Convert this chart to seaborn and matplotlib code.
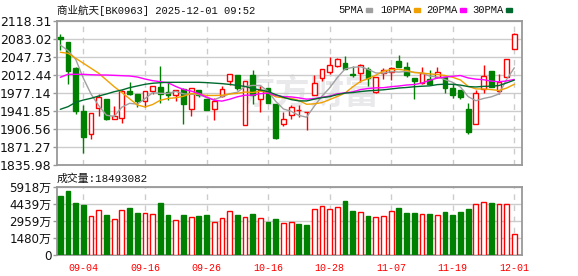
import numpy as np
import pandas as pd
import matplotlib
matplotlib.use("Agg")
import matplotlib.pyplot as plt
from matplotlib.patches import Rectangle
import seaborn as sns

sns.set_theme(style="white")
plt.rcParams["font.family"] = ["DejaVu Sans", "Noto Sans CJK SC"]

# ---------------- data ----------------
opens = [2087.5, 2077.1, 2026.8, 1942.4, 1896.2, 1948.3, 1965.4, 1926.8, 1928.7, 1981.1,
         1975.2, 1960.9, 1981.1, 1988.9, 1979.7, 1972.6, 1984.4, 1945.2, 1982.4, 1964.8,
         1946.4, 1971.3, 2000.1, 2011.8, 1913.8, 2012.4, 1966.0, 1986.3, 1955.6, 1915.8,
         1934.0, 1943.0, 1940.0, 1973.2, 2005.9, 2018.9, 2030.7, 2035.4, 2014.4, 2015.7,
         2024.8, 1979.7, 2015.7, 2018.9, 2039.3, 2028.1, 2006.5, 1996.2, 2004.0, 2007.9,
         2009.1, 1987.0, 1983.0, 1945.8, 1915.8, 1985.6, 2020.3, 1980.5, 2007.9, 2062.8]
highs = [2092.8, 2077.5, 2028.7, 1953.6, 1937.3, 1975.2, 1966.0, 1951.7, 1983.0, 1998.7,
         1975.2, 1981.1, 1990.3, 2030.7, 1998.7, 1982.4, 1987.6, 1986.3, 1982.4, 1964.8,
         1966.8, 1990.9, 2015.0, 2011.8, 2000.6, 2022.2, 1990.3, 1986.3, 1955.6, 1940.5,
         1953.6, 1953.0, 1940.5, 2012.4, 2024.8, 2047.1, 2046.4, 2049.7, 2030.7, 2033.4,
         2028.7, 2009.1, 2025.6, 2028.7, 2051.0, 2037.9, 2006.5, 2028.1, 2021.6, 2028.1,
         2009.1, 1996.2, 1983.0, 1957.5, 1983.0, 2032.0, 2020.3, 2014.4, 2043.2, 2094.2]
lows = [2061.5, 1994.2, 1936.0, 1860.1, 1886.4, 1932.1, 1924.2, 1926.8, 1918.9, 1972.6,
        1950.3, 1950.3, 1975.2, 1957.0, 1963.4, 1962.1, 1917.0, 1932.6, 1968.7, 1944.0,
        1924.8, 1970.0, 1992.8, 1982.4, 1913.8, 1955.6, 1939.9, 1957.0, 1887.0, 1913.0,
        1926.2, 1930.7, 1904.0, 1973.2, 2000.1, 2013.8, 2028.7, 2024.2, 2009.1, 1998.7,
        1991.5, 1977.7, 2005.2, 2002.6, 2027.5, 2009.1, 1965.4, 1994.8, 1994.2, 2006.0,
        1977.7, 1968.0, 1966.0, 1897.3, 1915.8, 1977.7, 1989.5, 1975.8, 2007.9, 2062.8]
closes = [2082.4, 2020.9, 1942.4, 1891.5, 1937.3, 1969.3, 1926.8, 1932.1, 1981.1, 1975.2,
          1960.9, 1981.1, 1990.3, 1975.2, 1973.2, 1982.4, 1956.2, 1986.3, 1972.6, 1944.4,
          1961.5, 1984.4, 2015.0, 1987.6, 2000.6, 1972.6, 1983.0, 1958.2, 1888.9, 1926.2,
          1950.3, 1943.0, 1940.0, 1996.2, 2024.8, 2031.4, 2044.4, 2024.2, 2011.8, 2031.4,
          2005.9, 2009.1, 2022.2, 2026.2, 2027.5, 2012.4, 2000.7, 2015.7, 1995.4, 2017.7,
          1987.6, 1973.8, 1969.9, 1901.3, 1977.2, 2009.9, 1989.5, 1998.1, 2043.2, 2092.2]
volumes_wan = [5138, 5572, 4506, 4358, 3379, 3873, 3495, 3090, 3873, 4073,
               3665, 3639, 3553, 4506, 3495, 3033, 3495, 3293, 3379, 3466,
               2859, 3180, 3786, 3466, 3267, 3553, 3180, 2859, 3119, 2747,
               2833, 2686, 2600, 3960, 4306, 3960, 4220, 4679, 3813, 3700,
               3379, 3267, 3353, 3786, 4073, 3639, 3639, 3553, 3553, 3466,
               3726, 3466, 3726, 3986, 4480, 4653, 4506, 4419, 4480, 1849.3082]

ma5_head = [2071.3, 2060.1, 2043.2, 2005.9]
ma10_head = [2057.0, 2055.0, 2045.2, 2035.4, 2025.6, 2015.7, 2002.6, 1989.5, 1978.0]
ma20_head = [2007.9, 2013.8, 2013.8, 2013.8, 2013.0, 2012.4, 2012.4, 2011.8, 2011.1, 2010.5,
             2008.5, 2004.6, 2001.3, 1999.3, 1997.3, 1990.0, 1984.0, 1981.0, 1976.0]
ma30_head = [1945.2, 1950.3, 1958.9, 1963.4, 1966.8, 1971.3, 1975.2, 1979.7, 1983.0, 1987.6,
             1990.9, 1994.2, 1996.2, 1997.4, 1998.1, 1998.1, 1998.1, 1998.1, 1998.1, 1997.5,
             1996.5, 1995.5, 1994.0, 1992.0, 1990.0, 1986.0, 1983.0, 1980.0, 1974.0]

tick_idx = [3, 11, 19, 27, 35, 43, 51, 59]
tick_labels = ["09-04", "09-16", "09-26", "10-16", "10-28", "11-07", "11-19", "12-01"]
price_ticks = list(np.linspace(1835.98, 2118.31, 9))
vol_ticks = [0, 1479.5, 2959, 4438.5, 5918]
vol_tick_labels = ["0", "1480万", "2959万", "4439万", "5918万"]

title = "商业航天[BK0963] 2025-12-01 09:52"
vol_title = "成交量:18493082"

# ---------------- derived ----------------
df = pd.DataFrame({"open": opens, "high": highs, "low": lows, "close": closes, "vol": volumes_wan})
df["i"] = np.arange(len(df))
for n, head, col in [(5, ma5_head, "ma5"), (10, ma10_head, "ma10"),
                     (20, ma20_head, "ma20"), (30, ma30_head, "ma30")]:
    m = df["close"].rolling(n).mean()
    m.iloc[:len(head)] = head
    df[col] = m

RED = "#ff0000"
GREEN = "#008000"
up = df["close"] >= df["open"]
prev = df["close"].shift(1).fillna(df["open"])
vol_up = np.where(df["close"] > df["open"], True,
                  np.where(df["close"] < df["open"], False, df["close"] >= prev))

# ---------------- figure ----------------
W, H = 578, 276
fig = plt.figure(figsize=(W / 100, H / 100), dpi=100)
fig.patch.set_facecolor("white")
ax = fig.add_axes([57 / W, 111 / H, 465 / W, 144 / H])
axv = fig.add_axes([57 / W, 21 / H, 465 / W, 68 / H])

XL = (-0.43, 60.0)
bw = 0.62

# watermark
ax.text(32.5, 1977, "东方财富", fontsize=25, color="#e9e9ec", ha="center", va="center",
        family=["Noto Sans CJK SC"], fontweight="bold", zorder=0)

# wicks
wcol = [RED if u else GREEN for u in up]
ax.vlines(df["i"], df["low"], df["high"], colors=wcol, lw=1, zorder=2)
# bodies
bot = np.minimum(df["open"], df["close"])
hgt = np.abs(df["close"] - df["open"])
ax.bar(df["i"][up], hgt[up], bottom=bot[up], width=bw, facecolor="white",
       edgecolor=RED, lw=1, zorder=3)
ax.bar(df["i"][~up], hgt[~up], bottom=bot[~up], width=bw, facecolor=GREEN,
       edgecolor=GREEN, lw=1, zorder=3)

# moving averages
ma_cols = {"ma5": "#a0a0a0", "ma10": "#f0a000", "ma20": "#ff00ff", "ma30": "#006a2e"}
for col, c in ma_cols.items():
    sns.lineplot(data=df, x="i", y=col, ax=ax, color=c, lw=1, zorder=4)

ax.set_xlim(*XL)
ax.set_ylim(1835.98, 2118.31)
ax.set_yticks(price_ticks)
ax.set_yticklabels([f"{v:.2f}" for v in price_ticks])
ax.set_xticks(tick_idx)
ax.set_xticklabels([])
ax.set_xlabel("")
ax.set_ylabel("")

# volume
vu = np.array(vol_up, dtype=bool)
axv.bar(df["i"][vu], df["vol"][vu], width=bw, facecolor="white", edgecolor=RED, lw=1, zorder=3)
axv.bar(df["i"][~vu], df["vol"][~vu], width=bw, facecolor=GREEN, edgecolor=GREEN, lw=1, zorder=3)
axv.set_xlim(*XL)
axv.set_ylim(0, 5918)
axv.set_yticks(vol_ticks)
axv.set_yticklabels(vol_tick_labels)
axv.set_xticks(tick_idx)
axv.set_xticklabels(tick_labels)

for a in (ax, axv):
    a.set_facecolor("white")
    a.grid(axis="y", color="#cccccc", lw=1, ls="-", zorder=0)
    a.grid(axis="x", color="#cccccc", lw=1, ls=(0, (4, 4)), zorder=0)
    a.set_axisbelow(True)
    for s in a.spines.values():
        s.set_color("#999999")
        s.set_linewidth(1.3)
    a.tick_params(axis="y", which="major", left=True, length=3, width=1, color="#999999",
                  pad=1, labelsize=9, labelcolor="#111111")
    a.tick_params(axis="x", which="major", bottom=False, length=0)

for t in axv.get_xticklabels():
    t.set_color(RED)
    t.set_fontfamily(["Liberation Mono"])
    t.set_fontsize(7.2)
axv.tick_params(axis="x", pad=6)
for t in axv.get_yticklabels():
    t.set_fontsize(8.6)

# titles
fig.text(57 / W, 1 - 10 / H, title, fontsize=7.6, ha="left", va="center",
         family=["Liberation Mono", "Noto Sans CJK SC"], color="#111111")
fig.text(57 / W, 1 - 179 / H, vol_title, fontsize=7.8, ha="left", va="center",
         family=["Liberation Mono", "Noto Sans CJK SC"], color="#111111")

# legend
leg = [("5PMA", 338, "#a0a0a0"), ("10PMA", 380, "#f0a000"),
       ("20PMA", 426, "#ff00ff"), ("30PMA", 472, "#006a2e")]
for txt, px, c in leg:
    t = fig.text(px / W, 1 - 10 / H, txt, fontsize=7.6, ha="left", va="center",
                 family=["Liberation Mono"], color="#111111")
    fig.canvas.draw()
    bb = t.get_window_extent()
    fig.patches.append(Rectangle(((bb.x1 + 3) / W, 1 - 12 / H), 6 / W, 4 / H,
                                 transform=fig.transFigure, color=c))

fig.savefig("out.png", dpi=100, facecolor="white")
